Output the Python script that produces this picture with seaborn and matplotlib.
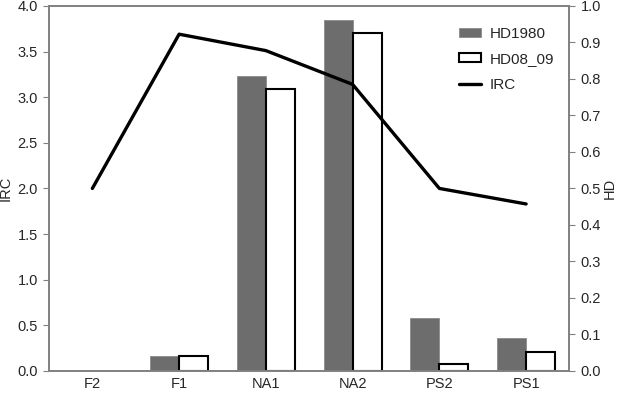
import pandas as pd
import matplotlib.pyplot as plt
import seaborn as sns

# values
sites = ["F2", "F1", "NA1", "NA2", "PS2", "PS1"]
irc = [2.0, 3.69, 3.51, 3.14, 2.0, 1.83]
hd1980 = [None, 0.041, 0.808, 0.962, 0.146, 0.091]
hd0809 = [None, 0.040, 0.772, 0.926, 0.020, 0.051]

sns.set_style("white")
plt.rcParams["font.family"] = ["Liberation Sans", "DejaVu Sans"]
plt.rcParams["font.size"] = 10.5

bars = pd.DataFrame({
    "site": sites * 2,
    "series": ["HD1980"] * len(sites) + ["HD08_09"] * len(sites),
    "HD": hd1980 + hd0809,
})
line = pd.DataFrame({"site": sites, "IRC": irc})

fig = plt.figure(figsize=(6.17, 3.93), dpi=100)
ax = fig.add_axes([0.0794, 0.056, 0.8436, 0.929])
ax2 = ax.twinx()

sns.barplot(data=bars, x="site", y="HD", hue="series", order=sites,
            hue_order=["HD1980", "HD08_09"], width=0.67, ax=ax2,
            palette=["#6d6d6d", "white"], saturation=1, legend=False)
grey_bars, white_bars = ax2.containers
for p in grey_bars:
    p.set_edgecolor("#8a8a8a")
    p.set_linewidth(0.6)
for p in white_bars:
    p.set_edgecolor("black")
    p.set_linewidth(1.5)

sns.lineplot(data=line, x="site", y="IRC", sort=False, color="black",
             linewidth=2.4, ax=ax)

# keep the IRC line over the bars
ax.set_zorder(ax2.get_zorder() + 1)
ax.patch.set_visible(False)

ax.set_xlim(-0.5, 5.5)
ax.set_ylim(0, 4.0)
ax2.set_ylim(0, 1.0)
ax.set_yticks([i * 0.5 for i in range(9)])
ax.set_yticklabels([f"{i * 0.5:.1f}" for i in range(9)])
ax2.set_yticks([i * 0.1 for i in range(11)])
ax2.set_yticklabels([f"{i * 0.1:.1f}" for i in range(11)])
ax.set_xticks(range(len(sites)))
ax.set_xticklabels(sites)
ax.set_xticks([i + 0.5 for i in range(-1, len(sites))], minor=True)
ax.tick_params(axis="x", which="major", length=0, pad=4)
ax.tick_params(axis="x", which="minor", length=5, color="#808080")
ax.tick_params(axis="y", length=4, color="#808080", pad=4)
ax2.tick_params(axis="y", length=4, color="#808080", pad=4)

ax.set_xlabel("")
ax.set_ylabel("IRC")
ax2.set_ylabel("HD")
ax.yaxis.set_label_coords(-0.069, 0.5)
ax2.yaxis.set_label_coords(1.064, 0.5)
for a in (ax, ax2):
    for s in a.spines.values():
        s.set_color("#808080")
        s.set_linewidth(1.2)

handles = [grey_bars[1], white_bars[1], ax.lines[0]]
ax.legend(handles, ["HD1980", "HD08_09", "IRC"], loc="upper right",
          bbox_to_anchor=(0.985, 0.964), borderpad=0, frameon=False,
          handlelength=1.45, handleheight=0.5, handletextpad=0.55,
          labelspacing=0.75, fontsize=11)

plt.savefig("out.png", dpi=100)
